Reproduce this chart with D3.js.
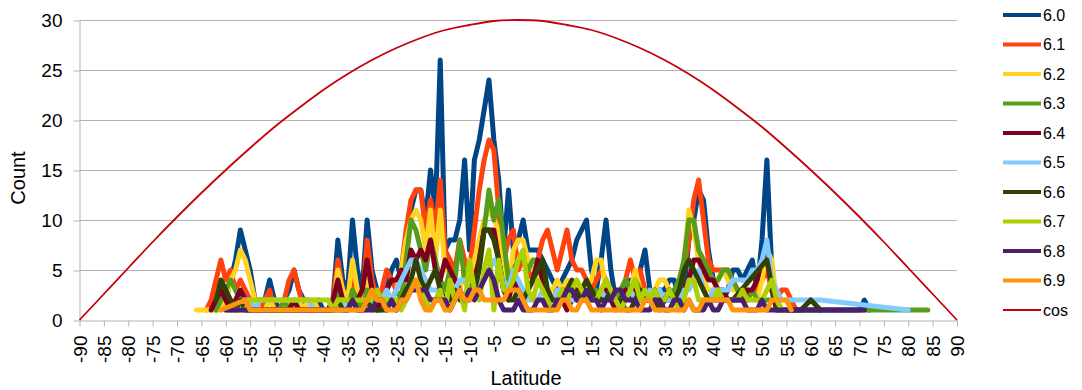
<!DOCTYPE html>
<html>
<head>
<meta charset="utf-8">
<script src="https://cdnjs.cloudflare.com/ajax/libs/d3/7.8.5/d3.min.js"></script>
<style>
  body { margin: 0; background: #fff; }
  svg text { font-family: "Liberation Sans", Arial, sans-serif; fill: #000; }
</style>
</head>
<body>
<svg id="chart" width="1082" height="390"></svg>
<script>
  // magnitude classes and their colours
  var magnitudes = ["6.0", "6.1", "6.2", "6.3", "6.4", "6.5", "6.6", "6.7", "6.8", "6.9"];
  var colors = ["#004586", "#ff420e", "#ffd320", "#579d1c", "#7e0021",
                "#83caff", "#314004", "#aecf00", "#4b1f6f", "#ff950e"];

  // first latitude of each counts array (one value per degree, null = no point)
  var starts = [-62, -64, -66, -62, -63, -60, -62, -60, -60, -61];

  var counts60 = [1,2,2,4,6,9,7,5,2,2, 2,4,2,1,2,3,5,3,2,2, 1,2,1,1,2,8,4,3,10,5,
    3,10,5,3,2,3,5,6,4,8, 11,13,13,10,15,11,26,7,8,8, 10,16,7,16,18,21,24,18,14,7,
    13,7,8,10,7,7,7,6,5,4, 3,4,5,6,8,9,10,5,3,6, 10,5,2,2,3,4,3,5,7,3,
    2,3,3,4,4,2,3,8,10,13, 12,7,4,3,2,3,5,5,4,5, 6,3,8,16,5,2,1,1,1,1,
    1,1,1,1,1,1,1,1,1,1, 1,1,1,2,1];
  var counts61 = [1,2,4,6,4,5,3,4,3,2, 1,1,2,3,1,1,2,4,5,3, 1,1,1,1,1,1,2,6,3,2,
    4,3,2,8,4,2,3,5,4,3, 5,9,12,13,13,9,12,9,14,7, 6,5,8,6,5,9,13,16,18,17,
    11,6,8,9,5,6,5,4,6,8, 9,7,5,7,9,6,5,5,4,3, 4,5,4,3,2,3,4,6,4,5,
    3,2,2,3,2,2,3,3,5,8, 12,14,10,6,5,5,5,5,4,3, 3,2,3,3,4,5,3,2,3,3, 2,1];
  var counts62 = [1,1,1,1,1,1,2,4,5,7, 6,4,2,1,1,2,1,1,1,2, 2,2,1,2,2,1,1,1,1,5,
    3,2,6,3,2,5,2,1,2,3, 2,3,5,8,10,11,10,7,11,6, 11,5,5,4,3,5,4,6,8,10,
    11,10,9,5,3,7,8,8,6,5, 5,4,3,3,4,3,4,3,4,3, 3,4,6,6,3,2,2,3,4,3,
    5,3,2,2,3,4,4,3,2,3, 6,11,9,6,4,3,3,4,5,4, 3,3,2,2,3,2,4,7,6,2, 1];
  var counts63 = [1,2,3,4,3,2,1,1,1,1, 1,1,1,1,2,1,1,1,1,1, 1,1,1,1,1,3,2,1,3,2,
    1,3,2,1,1,2,2,3,2,6, 10,9,7,5,8,6,4,3,5,4, 8,4,3,4,6,9,13,10,12,8,
    4,5,6,6,5,6,6,4,3,2, 2,3,3,2,3,3,2,2,3,2, 3,3,2,3,4,3,4,3,2,2,
    3,2,2,2,3,4,6,10,10,7, 6,5,4,4,5,5,4,3,2,2, 3,2,2,2,2,2,1,1,1,1,
    1,1,1,1,1,1,1,1,1,1, 1,1,1,1,1,1,1,1,1,1, 1,1,1,1,1,1,1];
  var counts64 = [1,2,3,2,1,2,3,2,1,1, 1,1,1,1,1,1,1,2,1,1, 1,1,1,1,1,2,4,2,1,2,
    2,3,6,3,1,2,3,4,4,5, 4,7,6,7,6,8,5,4,6,5, 4,3,2,2,4,6,9,9,9,6,
    3,2,4,3,2,3,4,6,4,3, 2,3,2,1,2,3,2,2,3,2, 2,3,2,1,2,3,2,3,2,2,
    2,3,2,2,3,2,2,3,4,6, 6,5,4,4,3,3,2,2,2,2, 3,3,4,6,7,3,1];
  var counts65 = [1,1,1,2,2,2,1,2,2,2, 2,2,2,2,2,2,2,2,1,1, 1,1,1,2,2,1,1,1,1,1,
    2,2,2,3,2,3,4,5,6,6, 5,4,3,3,3,2,2,3,4,4, 3,3,4,4,5,6,5,4,3,5,
    4,3,2,2,2,3,2,2,3,3, 2,2,2,3,2,2,2,3,2,3, 2,2,2,3,2,2,2,3,2,3,
    2,2,2,2,3,3,4,5,3,2, 3,3,3,3,4,4,4,4,5,5, 6,8,4,3,2,2,2,2,2,2,
    2,2,2, null,null,null,null,null,null,null,null,null,null,null,null,null,null,null,null,null, 1];
  var counts66 = [2,4,3,2,1,2,1,1,1,1, 1,1,1,1,1,1,1,1,1,1, 1,1,1,1,1,2,1,1,2,1,
    1,2,1,1,1,1,2,1,2,3, 4,6,4,3,4,5,3,2,2,3, 2,2,3,3,5,9,9,8,6,3,
    2,2,3,2,3,4,5,6,3,2, 2,2,3,4,2,3,4,3,2,2, 2,3,2,2,1,1,2,3,2,2,
    2,1,2,3,2,3,5,6,5,4, 3,2,2,2,2,2,2,
    null,null,null,null,null,null, 6, null, 1, null,null,null,null, 1, null, 2, null, 1];
  var counts67 = [1,1,1,1,1,2,2,2,2,2, 2,2,2,2,2,2,2,2,2,2, 2,2,1,2,2,2,2,2,2,2,
    2,3,2,2,2,2,1,2,3,4, 3,2,1,2,3,1,4,2,3,1, 6,3,2,5,7,1,6,3,3,4,
    6,7,3,2,4,3,2,1,2,3, 2,3,4,3,2,2,2,3,4,3, 2,1,2,3,4,2,3,2,3,2,
    2,3,2,1,2,4,4,2,2,2, 2,3,2,2,2,2,3,2,2,2, 2,3,4,2,1,1];
  var counts68 = [1,1,1,1,1,1,1,1,1,1, 1,1,1,1,1,1,1,1,1,1, 1,1,1,1,1,1,2,1,1,1,
    1,2,2,1,2,1,2,2,3,3, 3,3,2,2,2,2,1,2,3,2, 3,2,3,4,5,4,2,1,1,1,
    2,1,1,1,2,2,1,1,2,2, 3,3,2,2,3,2,2,1,2,2, 3,3,2,2,2,1,1,1,2,2,
    1,1,2,2,1,2,1,1,1,2, 1,1,2,2,2,2,2,1,1,1, 2,1,1,1,1,1,1,1,1,1,
    1,1,1,1,1,1,1,1,1,1,1,1];
  var counts69 = [1,null,null,null,null,2,
    1,1,1,1,1,1,1,1,1,1,1,1,1,1,1,1,1,1,1,1,1,1,1,
    1,2,3,2,2,1,1,1,2,2, 3,4,2,1,1,2,2,1,1,2, 3,2,2,3,3,2,2,2,2,2,
    3,3,3,2,1,1,1,1,1,1, 1,2,2,1,1,2,2,1,1,1, 1,1,1,1,1,1,1,1,2,2,
    1,1,1,1,1,1,1,2,1,1, 2,2,2,2,2,2,1,1,1,1, 1,1,1,1,2,2,2,2,1];

  var allCounts = [counts60, counts61, counts62, counts63, counts64,
                   counts65, counts66, counts67, counts68, counts69];

  // reference curve, read every 5 degrees
  var cosLats = [-90,-85,-80,-75,-70,-65,-60,-55,-50,-45,-40,-35,-30,-25,-20,-15,-10,-5,0,
                 5,10,15,20,25,30,35,40,45,50,55,60,65,70,75,80,85,90];
  var cosValues = [0,2.6,5.2,7.8,10.3,12.7,15,17.2,19.3,21.2,23,24.6,26,27.2,28.2,29,29.5,29.9,30,
                   29.9,29.5,29,28.2,27.2,26,24.6,23,21.2,19.3,17.2,15,12.7,10.3,7.8,5.2,2.6,0];

  var xTicks = [-90,-85,-80,-75,-70,-65,-60,-55,-50,-45,-40,-35,-30,-25,-20,-15,-10,-5,0,
                5,10,15,20,25,30,35,40,45,50,55,60,65,70,75,80,85,90];
  var yTicks = [0, 5, 10, 15, 20, 25, 30];

  var margin = {top: 20, left: 79.5, right: 957, bottom: 320};
  var svg = d3.select("#chart");

  var x = d3.scaleLinear().domain([-90, 90]).range([margin.left, margin.right]);
  var y = d3.scaleLinear().domain([0, 30]).range([margin.bottom, margin.top]);

  // horizontal grid
  svg.append("g").selectAll("line")
    .data(yTicks.slice(1))
    .enter().append("line")
    .attr("x1", margin.left).attr("x2", margin.right)
    .attr("y1", function(d) { return y(d) + 0.5; })
    .attr("y2", function(d) { return y(d) + 0.5; })
    .attr("stroke", "#b3b3b3").attr("stroke-width", 1);

  // y axis
  var yAxis = svg.append("g")
    .attr("transform", "translate(" + margin.left + ",0.5)")
    .call(d3.axisLeft(y).tickValues(yTicks).tickSize(6).tickSizeOuter(0).tickPadding(11)
      .tickFormat(function(d) { return String(d); }));
  yAxis.selectAll("line, path").attr("stroke", "#b3b3b3");
  yAxis.selectAll("text").style("font-size", "19px").attr("fill", "#000");

  // x axis, plain hyphen for negatives like the original
  var xAxis = svg.append("g")
    .attr("transform", "translate(0," + (margin.bottom + 0.5) + ")")
    .call(d3.axisBottom(x).tickValues(xTicks).tickSize(6).tickSizeOuter(0)
      .tickFormat(function(d) { return String(d); }));
  xAxis.selectAll("line, path").attr("stroke", "#b3b3b3");
  xAxis.selectAll("text")
    .style("font-size", "19px")
    .attr("fill", "#000")
    .attr("transform", "rotate(-90)")
    .attr("text-anchor", "end")
    .attr("x", -15)
    .attr("y", 0)
    .attr("dy", "0.35em");

  // axis titles
  svg.append("text")
    .attr("x", 526).attr("y", 385)
    .attr("text-anchor", "middle")
    .style("font-size", "20px")
    .text("Latitude");
  svg.append("text")
    .attr("transform", "translate(25,178) rotate(-90)")
    .attr("text-anchor", "middle")
    .style("font-size", "20px")
    .text("Count");

  var line = d3.line()
    .x(function(d) { return x(d.lat); })
    .y(function(d) { return y(d.count); });

  // series, 6.0 at the bottom
  allCounts.forEach(function(counts, i) {
    var points = counts.map(function(c, j) { return {lat: starts[i] + j, count: c}; })
      .filter(function(d) { return d.count != null; });
    svg.append("path")
      .datum(points)
      .attr("d", line)
      .attr("fill", "none")
      .attr("stroke", colors[i])
      .attr("stroke-width", 5)
      .attr("stroke-linejoin", "round")
      .attr("stroke-linecap", "round");
  });

  var cosPoints = cosLats.map(function(l, i) { return {lat: l, count: cosValues[i]}; });
  var cosLine = d3.line()
    .x(function(d) { return x(d.lat); })
    .y(function(d) { return y(d.count); })
    .curve(d3.curveNatural);
  svg.append("path")
    .datum(cosPoints)
    .attr("d", cosLine)
    .attr("fill", "none")
    .attr("stroke", "#c5000b")
    .attr("stroke-width", 1.8);

  // legend
  var legendNames = magnitudes.concat(["cos"]);
  var legendColors = colors.concat(["#c5000b"]);
  var legend = svg.append("g").selectAll("g")
    .data(legendNames)
    .enter().append("g")
    .attr("transform", function(d, i) { return "translate(1003," + (15 + i * 29.5) + ")"; });
  legend.append("line")
    .attr("x1", 0).attr("x2", 38)
    .attr("stroke", function(d, i) { return legendColors[i]; })
    .attr("stroke-width", function(d, i) { return i < 10 ? 4 : 2; });
  legend.append("text")
    .attr("x", 40).attr("dy", "0.35em")
    .style("font-size", "16px")
    .text(function(d) { return d; });
</script>
</body>
</html>
